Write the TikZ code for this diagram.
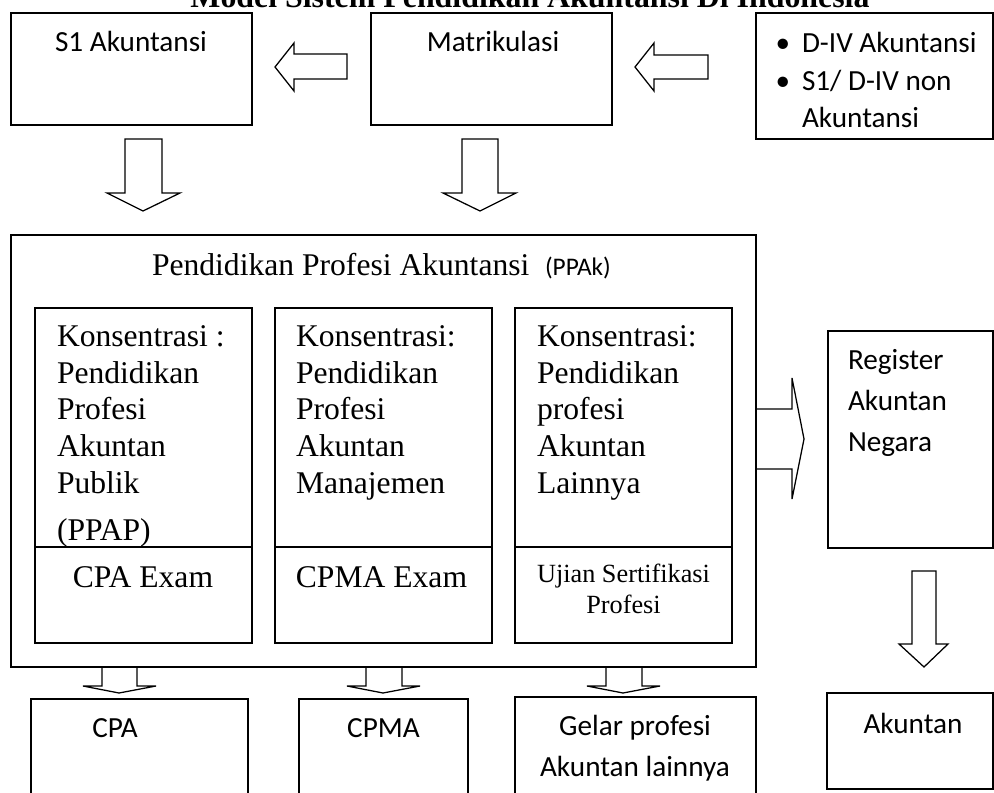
\documentclass[tikz,border=0pt]{standalone}
\usepackage{fontspec}
\setmainfont{Liberation Serif}
\newfontfamily\calfont{Carlito}
\usetikzlibrary{fit}
\begin{document}
\begin{tikzpicture}[x=0.75pt,y=-0.75pt,line width=0.95pt,
  box/.style={draw, rectangle, inner sep=0pt, outer sep=0pt},
  blockarrow/.style={draw, line join=miter},
  tx/.style={inner sep=0pt, outer sep=0pt},
  ser/.style={tx, font=\fontsize{23.7pt}{27.45pt}\selectfont, align=left},
  sersm/.style={tx, font=\fontsize{19.7pt}{23.25pt}\selectfont, align=center},
  cal/.style={tx, font=\calfont\fontsize{21.9pt}{27.75pt}\selectfont, align=left},
  calwide/.style={tx, font=\calfont\fontsize{21.9pt}{30.75pt}\selectfont}]
\clip (0,0) rectangle (994,792);
\fill[white] (0,0) rectangle (994,792);

% title
\node[tx, font=\bfseries\fontsize{23.9pt}{24pt}\selectfont, anchor=base] (title) at (530,8) {Model Sistem Pendidikan Akuntansi Di Indonesia};

% top row
\node[box, fit={(11,13)(252,125)}] (s1) {};
\node[box, fit={(371,13)(612,125)}] (matr) {};
\node[box, fit={(756,13)(993,139)}] (d4) {};
\node[cal, anchor=base] (s1t) at (131,52) {S1 Akuntansi};
\node[cal, anchor=base] (matrt) at (493,52) {Matrikulasi};
\node[cal, anchor=base] (b1) at (783,53) {\textbullet};
\node[cal, anchor=base] (b2) at (783,90) {\textbullet};
\node[cal, anchor=base west] (d4t) at (802,127) {D-IV Akuntansi\\S1/ D-IV non\\Akuntansi};

% arrows of the top row
\draw[blockarrow] (347,54) -- (294,54) -- (294,43) -- (275,67) -- (294,91) -- (294,79) -- (347,79) -- cycle;
\draw[blockarrow] (708,55) -- (654,55) -- (654,43) -- (635,67) -- (654,91) -- (654,79) -- (708,79) -- cycle;
\draw[blockarrow] (125,139) -- (162,139) -- (162,193) -- (180,193) -- (143,211) -- (107,193) -- (125,193) -- cycle;
\draw[blockarrow] (462,139) -- (498,139) -- (498,193) -- (516,193) -- (480,211) -- (443,193) -- (462,193) -- cycle;

% PPAk
\node[box, fit={(11,235)(756,667)}] (ppak) {};
\node[tx, font=\fontsize{23.7pt}{24pt}\selectfont, anchor=base west] (ppakt) at (152,275) {Pendidikan Profesi Akuntansi};
\node[tx, font=\calfont\fontsize{19pt}{20pt}\selectfont, anchor=base west] (ppaks) at (545,275) {(PPAk)};

\node[box, fit={(35,308)(252,547)}] (k1) {};
\node[box, fit={(35,547)(252,643)}] (e1) {};
\node[box, fit={(275,308)(492,547)}] (k2) {};
\node[box, fit={(275,547)(492,643)}] (e2) {};
\node[box, fit={(515,308)(732,547)}] (k3) {};
\node[box, fit={(515,547)(732,643)}] (e3) {};

\node[ser, anchor=base west] (k1t) at (57,493) {Konsentrasi :\\Pendidikan\\Profesi\\Akuntan\\Publik};
\node[ser, anchor=base west] (k1p) at (57,540) {(PPAP)};
\node[ser, anchor=base west] (k2t) at (296,493) {Konsentrasi:\\Pendidikan\\Profesi\\Akuntan\\Manajemen};
\node[ser, anchor=base west] (k3t) at (537,493) {Konsentrasi:\\Pendidikan\\profesi\\Akuntan\\Lainnya};
\node[ser, anchor=base] (e1t) at (143,587) {CPA Exam};
\node[ser, anchor=base] (e2t) at (381.5,587) {CPMA Exam};
\node[sersm, anchor=base] (e3t) at (623.5,613) {Ujian Sertifikasi\\Profesi};

% small arrows below PPAk
\draw[blockarrow] (102,667) -- (102,686) -- (83,686) -- (119,693) -- (156,686) -- (137,686) -- (137,667);
\draw[blockarrow] (366,667) -- (366,686) -- (347,686) -- (383,693) -- (420,686) -- (402,686) -- (402,667);
\draw[blockarrow] (606,667) -- (606,686) -- (587,686) -- (623,693) -- (660,686) -- (642,686) -- (642,667);

% bottom boxes
\node[box, fit={(31,699)(248,800)}] (cpa) {};
\node[box, fit={(299,699)(468,800)}] (cpma) {};
\node[box, fit={(515,697)(756,800)}] (gelar) {};
\node[cal, anchor=base] (cpat) at (115,737) {CPA};
\node[cal, anchor=base] (cpmat) at (383.5,737) {CPMA};
\node[calwide, anchor=base, align=center] (gelart) at (635,776) {Gelar profesi\\Akuntan lainnya};

% right column
\node[box, fit={(828,331)(993,548)}] (reg) {};
\node[calwide, anchor=base west, align=left] (regt) at (848,451) {Register\\Akuntan\\Negara};
\draw[blockarrow] (756,409) -- (792,409) -- (792,378) -- (804,439) -- (792,499) -- (792,469) -- (756,469);
\draw[blockarrow] (912,571) -- (936,571) -- (936,644) -- (948,644) -- (924,667) -- (899,644) -- (912,644) -- cycle;
\node[box, fit={(827,693)(993,789)}] (akt) {};
\node[cal, anchor=base] (aktt) at (913,733) {Akuntan};
\end{tikzpicture}
\end{document}
